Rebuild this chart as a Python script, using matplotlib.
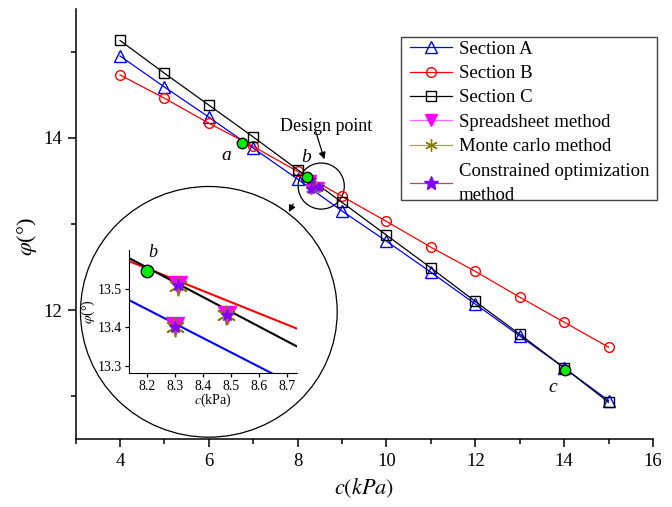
import matplotlib
matplotlib.use("Agg")
import matplotlib.pyplot as plt
from matplotlib.lines import Line2D
from matplotlib.patches import Ellipse, Rectangle
from matplotlib.ticker import MultipleLocator

plt.rcParams['font.family'] = ['Liberation Serif', 'DejaVu Serif']
plt.rcParams['mathtext.fontset'] = 'stix'

# data
c_sec = [4, 5, 6, 7, 8, 9, 10, 11, 12, 13, 14, 15]
phi_a = [14.95, 14.59, 14.24, 13.88, 13.52, 13.15, 12.80, 12.44, 12.07, 11.70, 11.33, 10.95]
phi_b = [14.73, 14.46, 14.17, 13.90, 13.61, 13.32, 13.03, 12.73, 12.45, 12.15, 11.86, 11.57]
phi_c = [15.13, 14.75, 14.38, 14.01, 13.63, 13.25, 12.87, 12.49, 12.10, 11.72, 11.33, 10.93]

design_c = [6.74, 8.20, 14.02]
design_phi = [13.94, 13.545, 11.31]
design_lbl = ['a', 'b', 'c']

spread_c = [8.31, 8.485, 8.30]
spread_phi = [13.51, 13.433, 13.403]
monte_c = [8.31, 8.483, 8.298]
monte_phi = [13.508, 13.432, 13.401]
optim_c = [8.31, 8.484, 8.299]
optim_phi = [13.509, 13.433, 13.402]

W, H = 672, 507
fig = plt.figure(figsize=(W / 100, H / 100), dpi=100)
ax = fig.add_axes([0.1125, 0.1335, 0.8592, 0.8495])

ax.plot(c_sec, phi_a, '-^', color='#0000FF', mfc='none', ms=8, lw=0.9, mew=1.0)
ax.plot(c_sec, phi_b, '-o', color='#FF0000', mfc='none', ms=7, lw=0.9, mew=1.0)
ax.plot(c_sec, phi_c, '-s', color='k', mfc='none', ms=6.5, lw=0.9, mew=1.0)
ax.plot(spread_c, spread_phi, 'v', color='#FF00FF', ms=7, ls='none')
ax.plot(monte_c, monte_phi, marker=(6, 2, 0), color='#808000', ms=8, ls='none', mew=1.0)
ax.plot(optim_c, optim_phi, '*', color='#7F00FF', ms=7, ls='none')
ax.plot(design_c, design_phi, 'o', color='#00EE00', mec='k', ms=7.5, ls='none', zorder=5)

lbl_pos = [(6.40, 13.79), (8.20, 13.77), (13.75, 11.10)]
for (x, y), t in zip(lbl_pos, design_lbl):
    ax.text(x, y, t, fontsize=14, style='italic', ha='center', va='center')

# magnifier circles
ax.add_patch(Ellipse((8.53, 13.44), 1.04, 0.535, fill=False, lw=0.9, ec='k'))
ax.add_patch(Ellipse((6.0, 11.98), 5.78, 2.91, fill=False, lw=0.9, ec='k', clip_on=False))
ax.annotate('', xy=(7.77, 13.11), xytext=(7.93, 13.26),
            arrowprops=dict(arrowstyle='-|>', color='k', lw=0.9, mutation_scale=10))
ax.annotate('', xy=(8.62, 13.72), xytext=(8.39, 14.10),
            arrowprops=dict(arrowstyle='-|>', color='k', lw=0.9, mutation_scale=10))
ax.text(8.65, 14.13, 'Design point', fontsize=13, ha='center', va='center')

ax.set_xlim(3, 16)
ax.set_ylim(10.5, 15.5)
ax.xaxis.set_major_locator(MultipleLocator(2))
ax.xaxis.set_minor_locator(MultipleLocator(1))
ax.yaxis.set_major_locator(MultipleLocator(2))
ax.yaxis.set_minor_locator(MultipleLocator(1))
ax.spines['top'].set_visible(False)
ax.spines['right'].set_visible(False)
for s in ('left', 'bottom'):
    ax.spines[s].set_linewidth(1.1)
ax.tick_params(which='major', direction='out', length=6, width=1.1, labelsize=13.5)
ax.tick_params(which='minor', direction='out', length=3.5, width=1.1)
ax.set_xlabel('$c(kPa)$', fontsize=16, labelpad=5)
ax.set_ylabel(r'$\varphi$(°)', fontsize=16, labelpad=3)
ax.yaxis.label.set_y(0.47)

handles = [
    Line2D([], [], color='#0000FF', marker='^', mfc='none', ms=8, lw=0.9),
    Line2D([], [], color='#FF0000', marker='o', mfc='none', ms=7, lw=0.9),
    Line2D([], [], color='k', marker='s', mfc='none', ms=6.5, lw=0.9),
    Line2D([], [], color='#FF66FF', marker='v', mfc='#FF00FF', mec='#FF00FF', ms=9, lw=0.9),
    Line2D([], [], color='#A0A050', marker=(6, 2, 0), mec='#808000', ms=9, lw=0.9),
    Line2D([], [], color='#B05050', marker='*', mfc='#7F00FF', mec='#7F00FF', ms=10, lw=0.9),
]
labels = ['Section A', 'Section B', 'Section C', 'Spreadsheet method',
          'Monte carlo method', 'Constrained optimization\nmethod']
leg = fig.legend(handles, labels, loc='upper left', bbox_to_anchor=(410 / W, 1 - 40.5 / H),
                 fontsize=13.5, frameon=False, borderaxespad=0, borderpad=0,
                 handlelength=2.25, handletextpad=0.35, labelspacing=0.39)
leg.get_texts()[-1].set_linespacing(1.55)
fig.patches.append(Rectangle((400.7 / W, 1 - 200 / H), 256.6 / W, 162.7 / H,
                             transform=fig.transFigure, fill=False, ec='#444444', lw=1.0))

# inset
ins = fig.add_axes([129.3 / W, 1 - 373.3 / H, 167.4 / W, 123.3 / H])
ins.set_facecolor('none')
ins.plot(c_sec, phi_a, '-', color='#0000FF', lw=1.5)
ins.plot(c_sec, phi_b, '-', color='#FF0000', lw=1.5)
ins.plot(c_sec, phi_c, '-', color='k', lw=1.5)
ins.plot(spread_c, spread_phi, 'v', color='#FF00FF', ms=13, ls='none')
ins.plot(monte_c, monte_phi, marker=(6, 2, 0), color='#808000', ms=14, ls='none', mew=1.2)
ins.plot(optim_c, optim_phi, '*', color='#7F00FF', ms=9, ls='none')
ins.plot(design_c, design_phi, 'o', color='#00EE00', mec='k', ms=9, ls='none', zorder=5)
ins.text(8.22, 13.594, 'b', fontsize=13, style='italic', ha='center', va='center', clip_on=False)
ins.set_xlim(8.135, 8.735)
ins.set_ylim(13.281, 13.60)
ins.set_xticks([8.2, 8.3, 8.4, 8.5, 8.6, 8.7])
ins.set_yticks([13.3, 13.4, 13.5])
ins.spines['top'].set_visible(False)
ins.spines['right'].set_visible(False)
ins.tick_params(direction='out', length=3, width=0.9, labelsize=10, pad=2)
ins.set_xlabel('$c$(kPa)', fontsize=10, labelpad=-1)
ins.set_ylabel(r'$\varphi$(°)', fontsize=10, labelpad=1)

fig.savefig('out.png', dpi=100)
